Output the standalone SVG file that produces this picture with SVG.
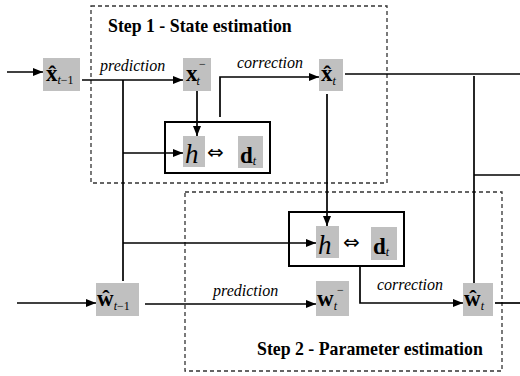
<svg xmlns="http://www.w3.org/2000/svg" width="520" height="376" viewBox="0 0 520 376">
<style>
.g{fill:#c0c0c0}
.c{stroke:#000;stroke-width:1.7;fill:none}
.ib{stroke:#000;stroke-width:2;fill:#fff}
.db{stroke:#333;stroke-width:1.3;fill:none;stroke-dasharray:4 3}
.lab{font-family:"Liberation Serif","DejaVu Serif",serif;font-style:italic;font-size:16px}
.step{font-family:"Liberation Serif",serif;font-weight:bold;font-size:17.8px}
.v{font-family:"Liberation Serif",serif;font-weight:bold;font-size:23px}
.sub{font-family:"Liberation Serif",serif;font-style:italic;font-weight:normal;font-size:12px}
.subr{font-style:normal}
.h{font-family:"Liberation Serif",serif;font-style:italic;font-size:27px}
.eq{font-family:"DejaVu Sans",sans-serif;font-size:20px}
</style>
<defs>
<marker id="a" markerWidth="10" markerHeight="8" refX="10" refY="4" orient="auto" markerUnits="userSpaceOnUse">
<path d="M0,0 L10,4 L0,8 Z" fill="#000"/>
</marker>
</defs>
<rect class="db" x="91" y="6" width="296" height="177"/>
<rect class="db" x="185" y="192" width="317" height="179"/>
<text class="step" x="108" y="32">Step 1 - State estimation</text>
<text class="step" x="257" y="355">Step 2 - Parameter estimation</text>
<g id="inner1"><rect class="ib" x="165" y="122" width="105" height="51"/></g>
<g id="inner2"><rect class="ib" x="289" y="212" width="115" height="54"/></g>
<g id="connectors">
<line class="c" x1="7" y1="72" x2="43" y2="72" marker-end="url(#a)"/>
<line class="c" x1="82" y1="80" x2="183" y2="80" marker-end="url(#a)"/>
<line class="c" x1="123" y1="80" x2="123" y2="281"/>
<line class="c" x1="123" y1="153" x2="183" y2="153" marker-end="url(#a)"/>
<line class="c" x1="197" y1="91" x2="197" y2="136" marker-end="url(#a)"/>
<polyline class="c" points="220,117 220,77 319,77" marker-end="url(#a)"/>
<line class="c" x1="345" y1="74" x2="520" y2="74"/>
<line class="c" x1="327" y1="94" x2="327" y2="226" marker-end="url(#a)"/>
<line class="c" x1="474" y1="76" x2="474" y2="283"/>
<line class="c" x1="474" y1="175" x2="520" y2="175"/>
<line class="c" x1="17" y1="303" x2="96" y2="303" marker-end="url(#a)"/>
<line class="c" x1="145" y1="304" x2="316" y2="304" marker-end="url(#a)"/>
<line class="c" x1="123" y1="243" x2="316" y2="243" marker-end="url(#a)"/>
<polyline class="c" points="360,266 360,303 463,303" marker-end="url(#a)"/>
<line class="c" x1="495" y1="303" x2="520" y2="303"/>
</g>
<text class="lab" x="100" y="71">prediction</text>
<text class="lab" x="237" y="68">correction</text>
<text class="lab" x="213" y="296">prediction</text>
<text class="lab" x="377" y="290">correction</text>
<g id="xhat_prev">
<rect class="g" x="43" y="58" width="37" height="33"/>
<text class="v" x="46" y="81">x̂<tspan class="sub" dy="3">t<tspan class="subr">−1</tspan></tspan></text>
</g>
<g id="x_pred">
<rect class="g" x="183" y="58" width="28" height="33"/>
<text class="v" x="186" y="81">x<tspan class="sub" dx="-1" dy="4">t</tspan></text>
<text class="sub subr" x="199" y="68">−</text>
</g>
<g id="xhat">
<rect class="g" x="319" y="59" width="24" height="32"/>
<text class="v" x="321" y="81">x̂<tspan class="sub" dy="4">t</tspan></text>
</g>
<g id="h1">
<rect class="g" x="183" y="136" width="22" height="31"/>
<text class="h" x="185" y="163">h</text>
</g>
<text class="eq" x="207" y="159">⇔</text>
<g id="d1">
<rect class="g" x="238" y="136" width="25" height="32"/>
<text class="v" x="240" y="163">d<tspan class="sub" dy="2">t</tspan></text>
</g>
<g id="h2">
<rect class="g" x="316" y="226" width="23" height="32"/>
<text class="h" x="318" y="254">h</text>
</g>
<text class="eq" x="343" y="249">⇔</text>
<g id="d2">
<rect class="g" x="371" y="227" width="26" height="33"/>
<text class="v" x="373" y="254">d<tspan class="sub" dy="2">t</tspan></text>
</g>
<g id="what_prev">
<rect class="g" x="96" y="283" width="43" height="33"/>
<text class="v" x="97" y="306">ŵ<tspan class="sub" dy="4">t<tspan class="subr">−1</tspan></tspan></text>
</g>
<g id="w_pred">
<rect class="g" x="316" y="281" width="33" height="35"/>
<text class="v" x="317" y="306">w<tspan class="sub" dy="4">t</tspan></text>
<text class="sub subr" x="337" y="294">−</text>
</g>
<g id="what">
<rect class="g" x="463" y="283" width="30" height="33"/>
<text class="v" x="464" y="306">ŵ<tspan class="sub" dy="4">t</tspan></text>
</g>
</svg>
